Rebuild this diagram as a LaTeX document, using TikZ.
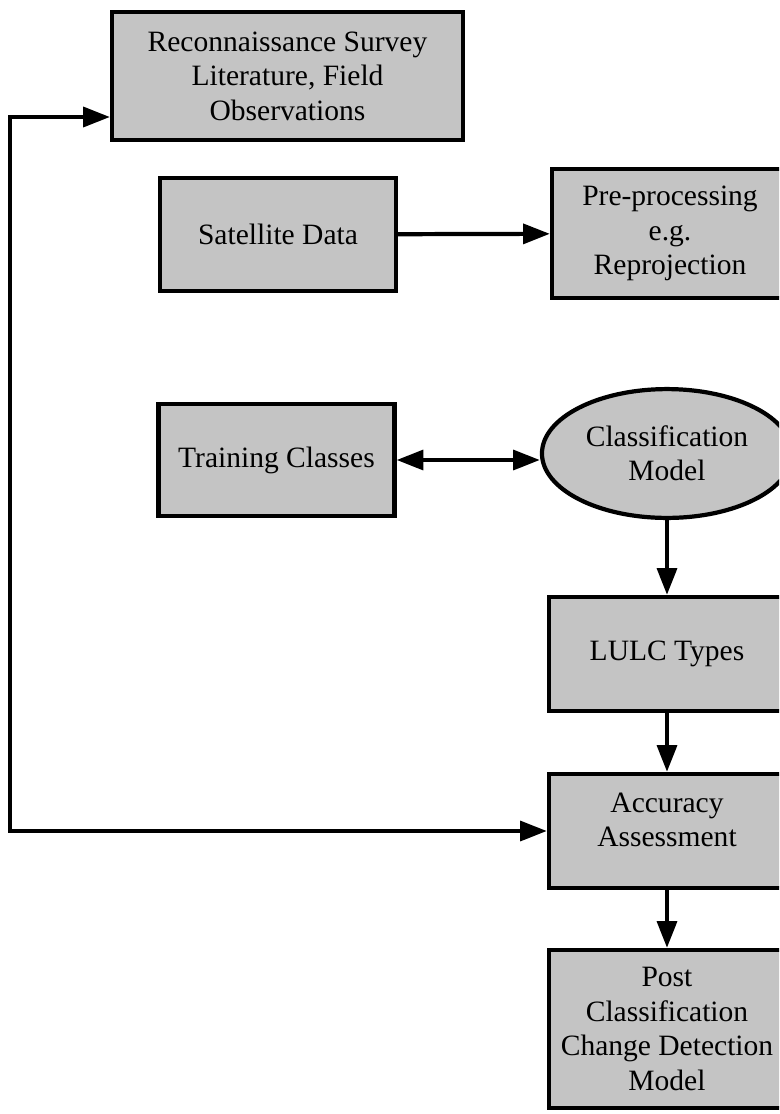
\documentclass[tikz,border=0pt]{standalone}
\usepackage{fontspec}
\setmainfont{Liberation Serif}
\usetikzlibrary{arrows.meta,shapes.geometric}
\definecolor{boxgray}{RGB}{196,196,196}

\begin{document}
\begin{tikzpicture}[x=0.025cm, y=-0.025cm, line width=3pt,
  box/.style={draw, fill=boxgray, line width=3pt, align=center, inner sep=2pt,
    font=\fontsize{21}{24.5}\selectfont, minimum width=5.9cm},
  oval/.style={ellipse, draw, fill=boxgray, line width=3pt, align=center, inner sep=0pt,
    font=\fontsize{21}{24.5}\selectfont, minimum width=6.25cm, minimum height=3.22cm},
  arr/.style={line width=3pt, -{Triangle[length=19pt,width=14pt]}},
  dbl/.style={line width=3pt, {Triangle[length=19pt,width=14pt]}-{Triangle[length=19pt,width=14pt]}}]
\path[use as bounding box] (0,0) rectangle (779,1114);
\clip (0,0) rectangle (779,1114);
\node[box, minimum width=8.77cm, minimum height=3.2cm] (recon) at (287.5, 76) {Reconnaissance Survey\\Literature, Field\\Observations};
\node[box, minimum height=2.83cm] (sat) at (278, 234.5) {Satellite Data};
\node[box, minimum height=3.23cm] (pre) at (670, 233.5) {Pre-processing\\e.g.\\Reprojection};
\node[box, minimum height=2.8cm] (train) at (276.5, 460) {Training Classes};
\node[oval] (cls) at (667, 453.5) {Classification\\Model};
\node[box, minimum height=2.85cm] (lulc) at (667, 654) {LULC Types};
\node[box, minimum height=2.85cm] (acc) at (667, 831) {Accuracy\\Assessment\\[-0.31cm]};
\node[box, minimum height=3.95cm] (post) at (667, 1029) {Post\\Classification\\Change Detection\\Model};
\coordinate (fbtop) at (10, 117);
\coordinate (fbbot) at (10, 831);
\draw[arr] (sat) -- (pre);
\draw[dbl] (train.east) -- (train.east -| cls.west);
\draw[arr] (cls) -- (lulc);
\draw[arr] (lulc) -- (acc);
\draw[arr] (acc) -- (post);
\draw[dbl] (fbtop -| recon.west) -- (fbtop) -- (fbbot) -- (acc.west);
\end{tikzpicture}
\end{document}
